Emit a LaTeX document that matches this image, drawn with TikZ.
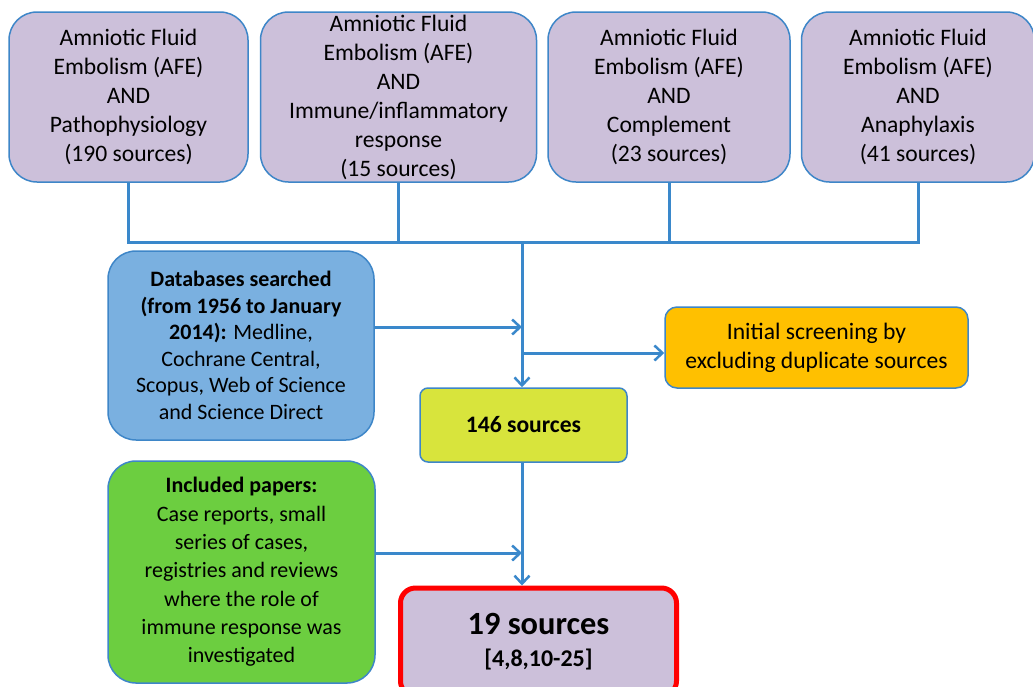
\documentclass[tikz,border=0pt]{standalone}
\usepackage{fontspec}
\setmainfont{Carlito}
\usetikzlibrary{arrows.meta,positioning}

\definecolor{afeframe}{RGB}{62,134,200}
\definecolor{afepurple}{RGB}{204,192,218}
\definecolor{dbblue}{RGB}{122,176,224}
\definecolor{screenorange}{RGB}{255,192,0}
\definecolor{limefill}{RGB}{216,228,60}
\definecolor{inclgreen}{RGB}{108,206,64}
\definecolor{linkblue}{RGB}{58,136,203}

\tikzset{
  box/.style={draw=afeframe, line width=1.5pt, rounded corners=28pt, align=center,
    inner sep=0pt, font=\fontsize{23.6}{29}\selectfont},
  search/.style={box, fill=afepurple, minimum height=170pt},
  link/.style={draw=linkblue, line width=3pt},
  flow/.style={link, -{Straight Barb[length=8pt,width=15pt,line width=2.5pt]}},
}

\begin{document}
\begin{tikzpicture}[x=1pt,y=-1pt]
  \useasboundingbox (0,0) rectangle (1033,686);

  % the four searches, side by side
  \node[search, minimum width=239pt] (patho) at (128.5,97)
    {Amniotic Fluid\\Embolism (AFE)\\AND\\Pathophysiology\\(190 sources)};
  \node[search, minimum width=276pt, right=11pt of patho] (immune)
    {Amniotic Fluid\\Embolism (AFE)\\AND\\Immune/inflammatory\\response\\(15 sources)};
  \node[search, minimum width=242pt, right=10pt of immune] (compl)
    {Amniotic Fluid\\Embolism (AFE)\\AND\\Complement\\(23 sources)};
  \node[search, minimum width=233pt, right=10pt of compl] (anaph)
    {Amniotic Fluid\\Embolism (AFE)\\AND\\Anaphylaxis\\(41 sources)};

  % side boxes and the main column
  \node[box, fill=dbblue, minimum width=266pt, minimum height=189pt,
        font=\fontsize{22}{26.5}\selectfont] (db) at (241,345.5)
    {\textbf{Databases searched}\\\textbf{(from 1956 to January}\\\textbf{2014):} Medline,\\
     Cochrane Central,\\Scopus, Web of Science\\and Science Direct};
  \node[box, fill=screenorange, rounded corners=12pt, minimum width=303pt,
        minimum height=81pt] (screen) at (816.5,347.5)
    {Initial screening by\\excluding duplicate sources};
  \node[box, fill=limefill, rounded corners=8pt, minimum width=207pt,
        minimum height=74pt] (sources146) at (523.5,425)
    {\textbf{146 sources}};
  \node[box, fill=inclgreen, minimum width=267pt, minimum height=222pt,
        font=\fontsize{22}{28.3}\selectfont] (incl) at (241.5,572)
    {\textbf{Included papers:}\\Case reports, small\\series of cases,\\registries and reviews\\
     where the role of\\immune response was\\investigated};
  \node[box, draw=red, line width=5pt, fill=afepurple, rounded corners=15pt,
        minimum width=276pt, minimum height=108pt] (sources19) at (538.5,642)
    {{\fontsize{32.4}{34}\selectfont\bfseries 19 sources}\\[3pt]
     {\fontsize{24}{29}\selectfont\bfseries [4,8,10-25]}};

  % joining lines
  \coordinate (bus) at (522,242);
  \coordinate (dbin) at (522,327);
  \coordinate (split) at (522,353);
  \coordinate (inclin) at (522,553);
  \draw[link] (patho.south) |- (anaph.south |- bus) -- (anaph.south);
  \draw[link] (immune.south) -- (immune.south |- bus);
  \draw[link] (compl.south) -- (compl.south |- bus);
  \draw[flow] (bus) -- (bus |- sources146.north);
  \draw[flow] (db.east |- dbin) -- (dbin);
  \draw[flow] (split) -- (screen.west |- split);
  \draw[flow] (bus |- sources146.south) -- (bus |- sources19.north);
  \draw[flow] (incl.east |- inclin) -- (inclin);
\end{tikzpicture}
\end{document}
